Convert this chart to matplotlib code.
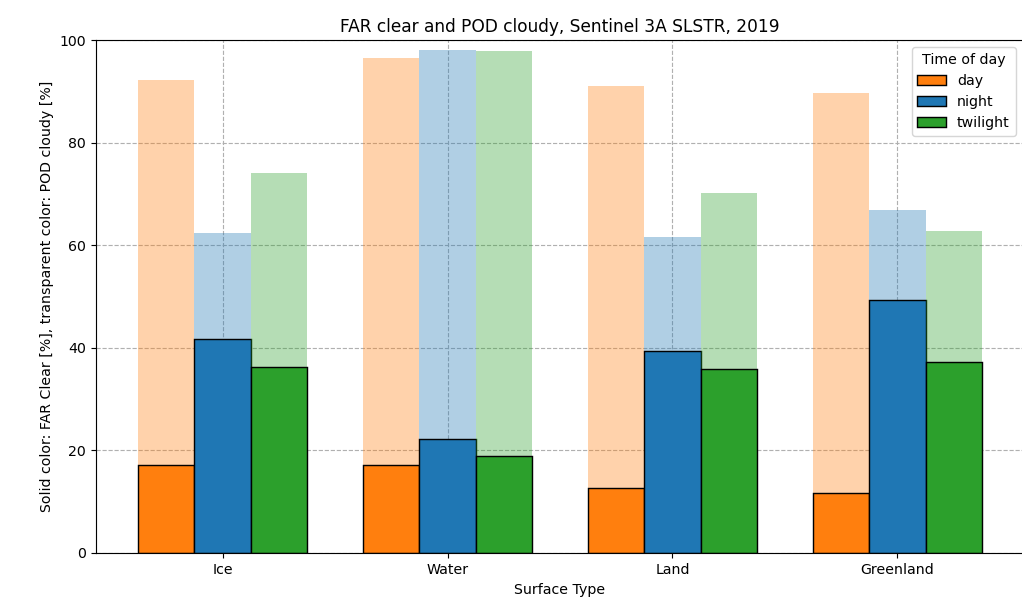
import numpy as np
import matplotlib
matplotlib.use('Agg')
import matplotlib.pyplot as plt

# Values
surfaces = ['Ice', 'Water', 'Land', 'Greenland']
times = ['day', 'night', 'twilight']
colors = {'day': 'tab:orange', 'night': 'tab:blue', 'twilight': 'tab:green'}

# POD cloudy [%] (transparent bars)
pod_cloudy = {
    'day': [92.2, 96.5, 91.0, 89.7],
    'night': [62.4, 98.0, 61.6, 66.9],
    'twilight': [74.1, 97.9, 70.2, 62.8],
}
# FAR clear [%] (solid bars)
far_clear = {
    'day': [17.1, 17.1, 12.6, 11.6],
    'night': [41.7, 22.3, 39.3, 49.4],
    'twilight': [36.3, 18.9, 35.8, 37.3],
}

width = 0.25
x = np.arange(len(surfaces))

DPI = 102
fig = plt.figure(figsize=(1022 / DPI, 598 / DPI), dpi=DPI)
ax = fig.add_axes([96 / 1022, 45 / 598, 928 / 1022, 513 / 598])

for i, t in enumerate(times):
    pos = x + (i - 1) * width
    ax.bar(pos, pod_cloudy[t], width, color=colors[t], alpha=0.35)
    ax.bar(pos, far_clear[t], width, color=colors[t], edgecolor='black', label=t)

ax.set_xticks(x)
ax.set_xticklabels(surfaces)
ax.set_ylim(0, 100)
ax.set_xlabel('Surface Type')
ax.set_ylabel('Solid color: FAR Clear [%], transparent color: POD cloudy [%]')
ax.set_title('FAR clear and POD cloudy, Sentinel 3A SLSTR, 2019')
ax.grid(True, linestyle='--')
ax.set_axisbelow(True)
ax.legend(title='Time of day', loc='upper right', bbox_to_anchor=(0.9985, 1))

plt.savefig('out.png', dpi=DPI)
